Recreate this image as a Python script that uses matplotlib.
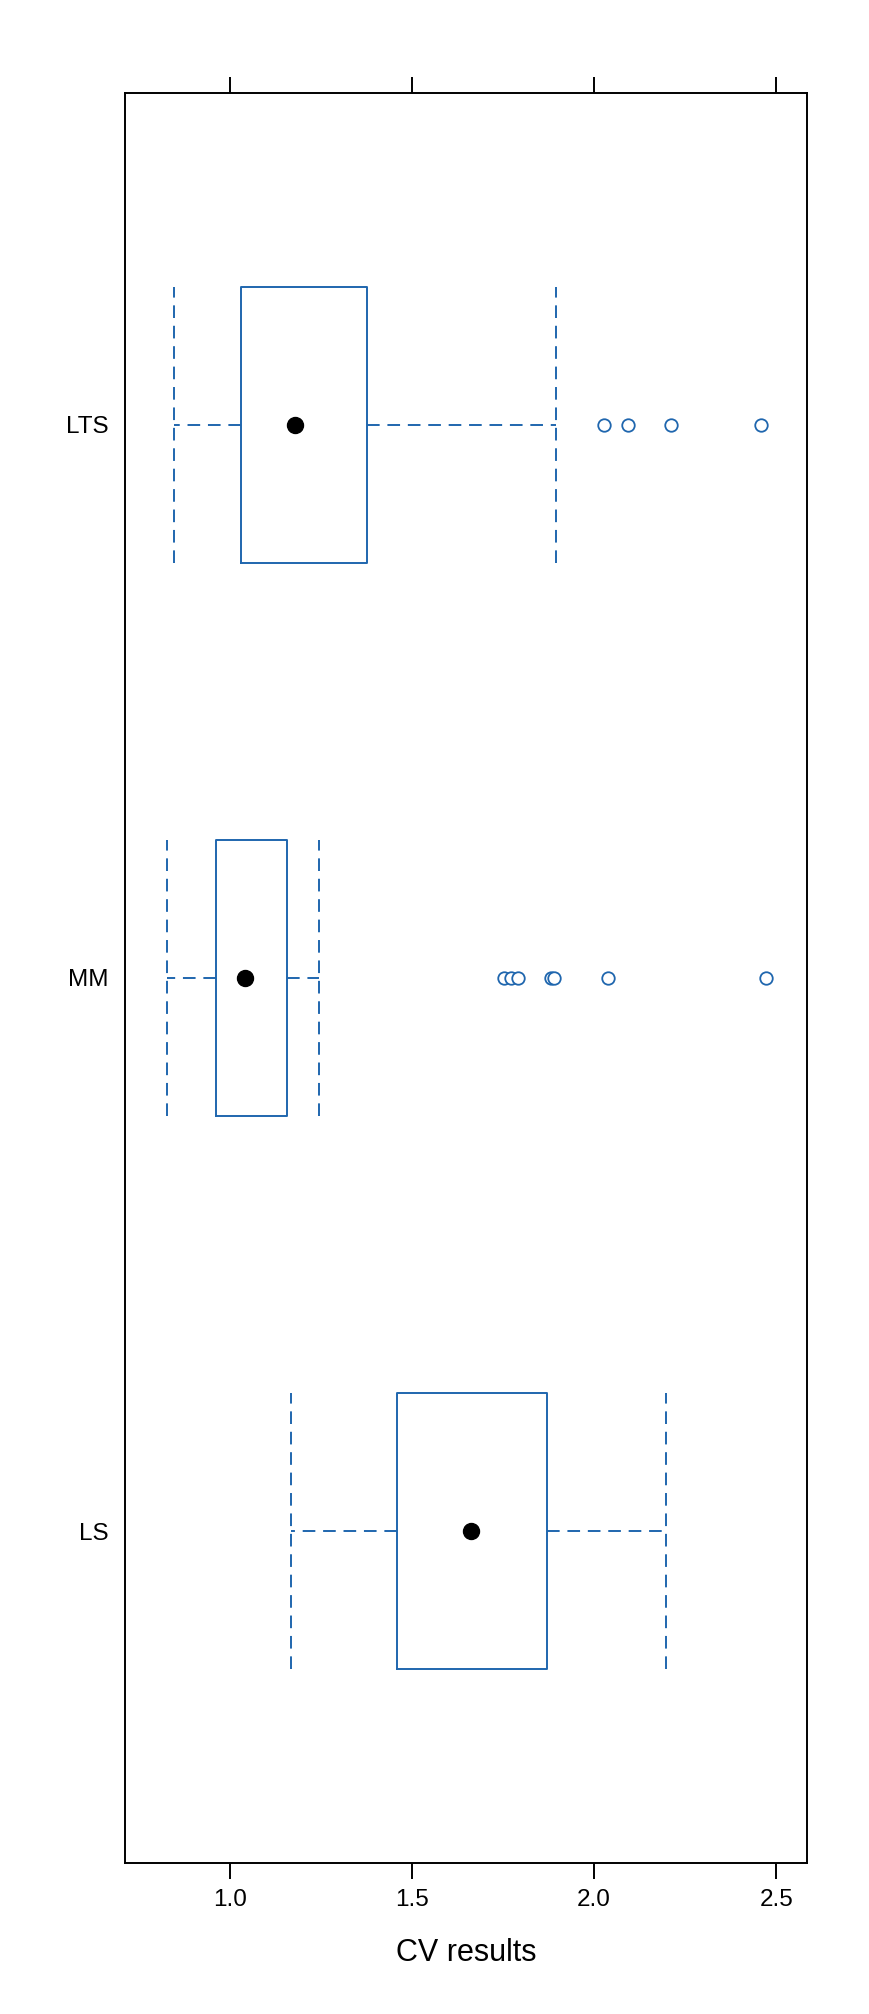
import matplotlib
matplotlib.use("Agg")
import matplotlib.pyplot as plt

plt.rcParams['font.family'] = ['Liberation Sans', 'DejaVu Sans']

# boxplot summaries, bottom to top
methods = ["LS", "MM", "LTS"]
whisker_low = [1.167, 0.828, 0.847]
box_low = [1.460, 0.962, 1.031]
medians = [1.663, 1.041, 1.178]
box_high = [1.870, 1.156, 1.377]
whisker_high = [2.198, 1.244, 1.895]
outliers = [
    [],
    [1.752, 1.771, 1.791, 1.882, 1.891, 2.039, 2.472],
    [2.028, 2.093, 2.212, 2.459],
]
x_ticks = [1.0, 1.5, 2.0, 2.5]

BLUE = "#1f66ae"
DASH = (0, (6.5, 4))

stats = []
for i, name in enumerate(methods):
    stats.append({
        "label": name,
        "whislo": whisker_low[i],
        "q1": box_low[i],
        "med": medians[i],
        "q3": box_high[i],
        "whishi": whisker_high[i],
        "fliers": outliers[i],
    })

fig = plt.figure(figsize=(8.7, 20.14), dpi=100)
ax = fig.add_axes([0.1437, 0.0750, 0.928 - 0.1437, 0.9538 - 0.0750])

positions = list(range(1, len(methods) + 1))
ax.bxp(stats, positions=positions, widths=0.5, capwidths=0.5,
       orientation="horizontal",
       boxprops=dict(color=BLUE, linewidth=1.4),
       whiskerprops=dict(color=BLUE, linewidth=1.4, linestyle=DASH),
       capprops=dict(color=BLUE, linewidth=1.4, linestyle=DASH),
       medianprops=dict(linewidth=0),
       flierprops=dict(marker="o", markersize=9, markerfacecolor="white",
                       markeredgecolor=BLUE, markeredgewidth=1.3),
       manage_ticks=False)

# median drawn as a solid black dot
ax.plot(medians, positions, "o", color="black", markersize=11.5, zorder=5)

ax.set_xlim(0.7127, 2.585)
ax.set_ylim(0.4, 3.6)
ax.set_xticks(x_ticks)
ax.set_xticklabels([f"{t:.1f}" for t in x_ticks])
ax.set_yticks(positions)
ax.set_yticklabels(methods)

ax.tick_params(axis="x", top=True, bottom=True, direction="out",
               length=11.5, width=1.4, labelsize=17.5, pad=7.5)
ax.tick_params(axis="y", length=0, labelsize=17.5, pad=12)
for spine in ax.spines.values():
    spine.set_linewidth(1.4)

ax.set_xlabel("CV results", fontsize=22)
ax.xaxis.set_label_coords(0.5, -0.0425)

fig.savefig("out.png", dpi=100)
